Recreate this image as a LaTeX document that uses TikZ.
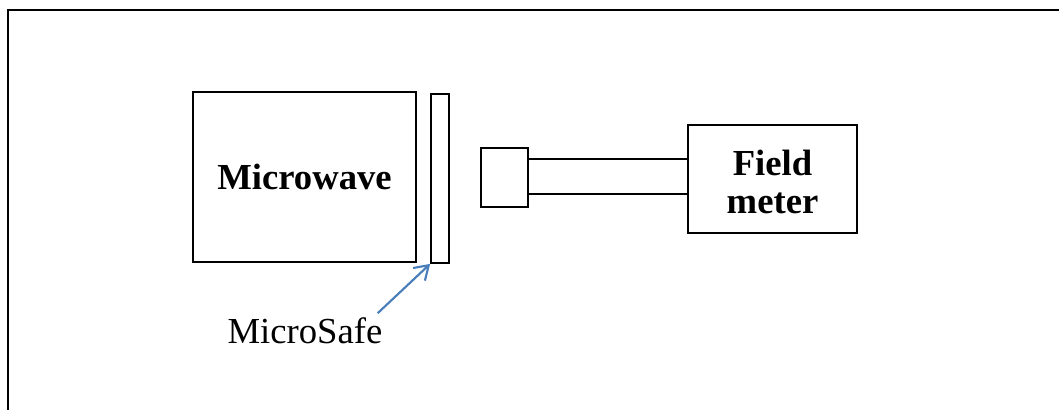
\documentclass[tikz,border=0pt]{standalone}
\usepackage{fontspec}
\setmainfont{Liberation Serif}
\usepackage{tikz}
\usetikzlibrary{calc,arrows.meta}
\usetikzlibrary{positioning}
\definecolor{ms-line}{HTML}{000000}
\definecolor{ms-arrow}{HTML}{4A7EBB}

\begin{document}
\begin{tikzpicture}[x=0.75pt, y=-0.75pt, line width=1.3pt]
    \useasboundingbox (0,0) rectangle (1059,410);
    \tikzset{
        unit/.style={draw=ms-line, inner sep=0pt, align=center,
            font=\fontsize{27.5}{28.5}\selectfont\bfseries},
        plain/.style={draw=ms-line, inner sep=0pt}
    }

    % --- Outer frame (runs past the right and bottom edge) ---
    \draw[ms-line, line width=1.6pt] (1059, 10) -- (8, 10) -- (8, 410);

    % --- Microwave and the MicroSafe shield ---
    \node[unit, minimum width=223*0.75pt, minimum height=170*0.75pt] (oven) at (304.5, 177) {Microwave};
    \node[plain, minimum width=18*0.75pt, minimum height=169*0.75pt] (safe) at (440, 178.5) {};

    % --- Probe, handle and field meter ---
    \node[plain, minimum width=47*0.75pt, minimum height=59*0.75pt] (probe) at (504.5, 177.5) {};
    \node[unit, minimum width=169*0.75pt, minimum height=108*0.75pt] (meter) at (772.5, 179) {};
    \node[unit, draw=none] (meterlabel) at (772.5, 181.5) {Field\\meter};
    \draw[ms-line] (probe.east |- 0, 159) -- (meter.west |- 0, 159);
    \draw[ms-line] (probe.east |- 0, 194) -- (meter.west |- 0, 194);

    % --- Label with arrow ---
    \node[font=\fontsize{27.5}{30}\selectfont, anchor=base] (label) at (305, 343) {MicroSafe};
    \draw[ms-arrow, line width=1.6pt, -{Straight Barb[length=10pt, width=13pt]}]
        ([xshift=-7.5pt, yshift=-1pt]label.north east) -- (safe.south west);
\end{tikzpicture}
\end{document}
